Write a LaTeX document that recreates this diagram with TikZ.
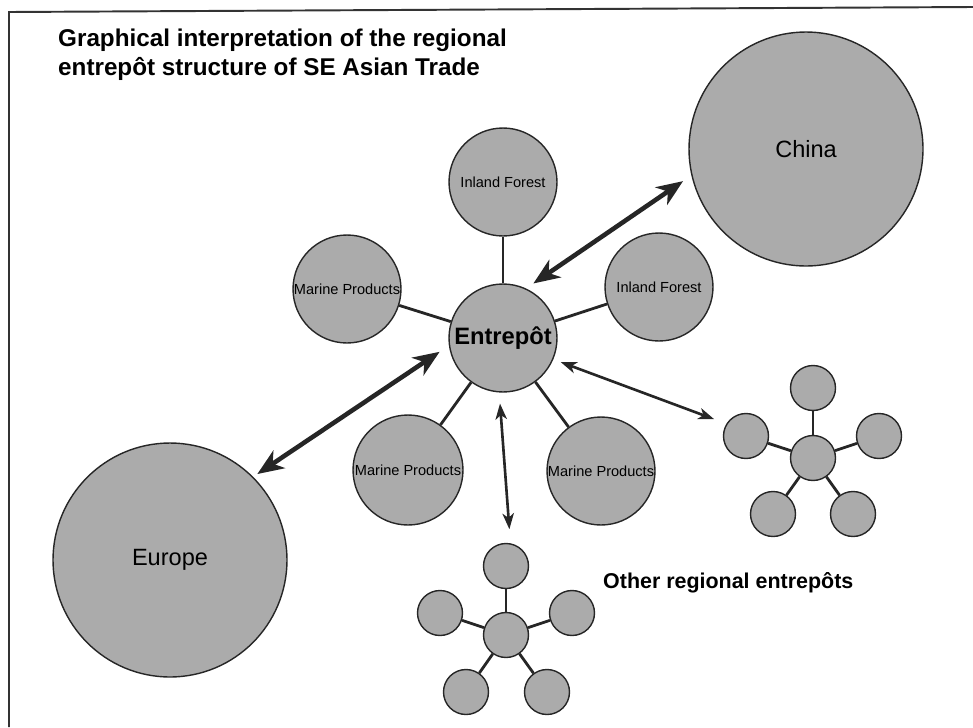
\documentclass[tikz,border=0pt]{standalone}
\usepackage{fontspec}
\setmainfont{Liberation Sans}
\usetikzlibrary{arrows.meta}
\begin{document}
\begin{tikzpicture}[x=0.02cm,y=-0.02cm,blob/.style={circle,draw=black!85,line width=0.8pt,fill=black!33,inner sep=0pt,align=center},bigblob/.style={blob,minimum size=4.68cm,font=\fontsize{13.4}{16}\selectfont},prodblob/.style={blob,minimum size=2.16cm,font=\fontsize{8.3}{10}\selectfont},hubblob/.style={blob,minimum size=0.9cm},link/.style={line width=1.6pt,black!85},heavyarrow/.style={line width=2.6pt,black!85,{Stealth[length=15pt,width=12pt,inset=4.5pt]}-{Stealth[length=15pt,width=12pt,inset=4.5pt]}},lightarrow/.style={line width=1.5pt,black!85,{Stealth[length=9pt,width=6.5pt,inset=2.5pt]}-{Stealth[length=9pt,width=6.5pt,inset=2.5pt]}}]
\useasboundingbox (0,0) rectangle (973,727);
\draw[line width=1.1pt,black!80] (973,7) -- (9,12) -- (9,727);
\node[anchor=base west,align=left,font=\bfseries\fontsize{13.8}{16}\selectfont] (title) at (52,75) {Graphical interpretation of the regional\\entrepôt structure of SE Asian Trade};
\node[bigblob] (china) at (806,149) {China};
\node[bigblob] (europe) at (170,560) {Europe};
\node[blob,minimum size=2.16cm,font=\bfseries\fontsize{13.5}{16}\selectfont] (entrepot) at (503,338) {Entrepôt};
\node[prodblob] (forestN) at (503,182) {Inland Forest};
\node[prodblob] (forestE) at (659,287) {Inland Forest};
\node[prodblob] (marineW) at (347,289) {Marine Products};
\node[prodblob,minimum size=2.2cm] (marineSW) at (408,470) {Marine Products};
\node[prodblob] (marineSE) at (601,471) {Marine Products};
\draw[link] (entrepot) -- (forestN);
\draw[link] (entrepot) -- (forestE);
\draw[link] (entrepot) -- (marineW);
\draw[link] (entrepot) -- (marineSW);
\draw[link] (entrepot) -- (marineSE);
\node[hubblob] (hubE) at (813,458) {};
\node[hubblob] (hubE-t) at (813,388) {};
\node[hubblob] (hubE-r) at (879,436) {};
\node[hubblob] (hubE-l) at (746,436) {};
\node[hubblob] (hubE-br) at (853,514) {};
\node[hubblob] (hubE-bl) at (773,514) {};
\draw[link] (hubE) -- (hubE-t);
\draw[link] (hubE) -- (hubE-r);
\draw[link] (hubE) -- (hubE-l);
\draw[link] (hubE) -- (hubE-br);
\draw[link] (hubE) -- (hubE-bl);
\node[hubblob] (hubS) at (506,635) {};
\node[hubblob] (hubS-t) at (506,566) {};
\node[hubblob] (hubS-r) at (572,613) {};
\node[hubblob] (hubS-l) at (440,613) {};
\node[hubblob] (hubS-br) at (547,692) {};
\node[hubblob] (hubS-bl) at (466,692) {};
\draw[link] (hubS) -- (hubS-t);
\draw[link] (hubS) -- (hubS-r);
\draw[link] (hubS) -- (hubS-l);
\draw[link] (hubS) -- (hubS-br);
\draw[link] (hubS) -- (hubS-bl);
\draw[heavyarrow,shorten <=5pt,shorten >=5.7pt] (entrepot.65.5) -- (china.193);
\draw[heavyarrow,shorten <=6.3pt,shorten >=2.8pt] (entrepot.188) -- (europe.45.7);
\draw[lightarrow,shorten <=6.3pt,shorten >=8pt] (entrepot.266.5) -- (hubS-t.79);
\draw[lightarrow,shorten <=4.5pt,shorten >=7.4pt] (entrepot.337) -- (hubE-l.148.5);
\node[anchor=base west,font=\bfseries\fontsize{12.2}{14}\selectfont] (others) at (597,588) {Other regional entrepôts};
\end{tikzpicture}
\end{document}
